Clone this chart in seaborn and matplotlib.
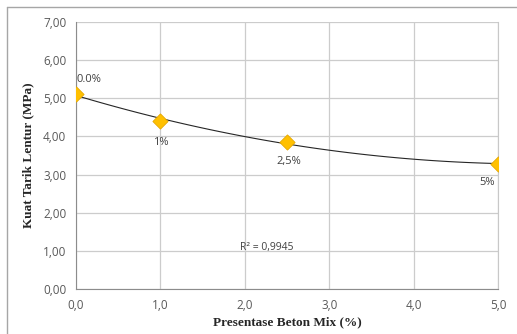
import matplotlib
matplotlib.use("Agg")
import matplotlib.pyplot as plt
import seaborn as sns
import pandas as pd
from matplotlib.lines import Line2D
from matplotlib.ticker import FuncFormatter, MultipleLocator

# Data
persen = [0.0, 1.0, 2.5, 5.0]
kuat_tarik = [5.11, 4.40, 3.85, 3.28]
point_labels = ["0.0%", "1%", "2,5%", "5%"]
r2_text = "R² = 0,9945"
x_label = "Presentase Beton Mix (%)"
y_label = "Kuat Tarik Lentur (MPa)"

df = pd.DataFrame({"x": persen, "y": kuat_tarik})

sns.set_style("white")
W, H = 517, 334
fig = plt.figure(figsize=(W / 100, H / 100), dpi=100)
ax = fig.add_axes([76 / W, 1 - 289 / H, (498 - 76) / W, (289 - 22) / H])

# outer border (left and top)
fig.add_artist(Line2D([7 / W, 7 / W], [0, 1 - 7 / H], color="#a6a6a6", lw=1.0, transform=fig.transFigure))
fig.add_artist(Line2D([7 / W, 1], [1 - 7 / H, 1 - 7 / H], color="#a6a6a6", lw=1.0, transform=fig.transFigure))

# trendline (polynomial order 2)
sns.regplot(data=df, x="x", y="y", order=2, ci=None, scatter=False, ax=ax,
            line_kws=dict(color="#262626", lw=0.8, zorder=3))
# points
sns.scatterplot(data=df, x="x", y="y", marker="D", s=60, color="#FFC000",
                edgecolor="#E6A800", linewidth=0.6, ax=ax, zorder=4)

ax.set_xlim(0, 5)
ax.set_ylim(0, 7)
ax.xaxis.set_major_locator(MultipleLocator(1))
ax.yaxis.set_major_locator(MultipleLocator(1))
ax.xaxis.set_major_formatter(FuncFormatter(lambda v, p: f"{v:.1f}".replace(".", ",")))
ax.yaxis.set_major_formatter(FuncFormatter(lambda v, p: f"{v:.2f}".replace(".", ",")))
ax.grid(True, color="#cccccc", lw=0.9)
ax.set_axisbelow(True)
ax.spines["top"].set_visible(False)
ax.spines["right"].set_color("#c8c8c8")
ax.spines["left"].set_color("#8c8c8c")
ax.spines["bottom"].set_color("#8c8c8c")
ax.tick_params(axis="both", which="major", length=4, width=0.8, color="#8c8c8c",
               labelsize=8.5, labelcolor="#595959", direction="out", pad=3)
for lab in ax.get_xticklabels() + ax.get_yticklabels():
    lab.set_fontfamily("Open Sans")

ax.set_xlabel(x_label, fontfamily="Liberation Serif", fontweight="bold", fontsize=9.5,
              color="#262626", labelpad=3)
ax.set_ylabel(y_label, fontfamily="Liberation Serif", fontweight="bold", fontsize=9.5,
              color="#262626", labelpad=6)

# data labels
offsets = [(0.01, 5.48, "left"), (1.0, 3.83, "center"), (2.52, 3.33, "center"), (4.87, 2.78, "center")]
for (lx, ly, ha), t in zip(offsets, point_labels):
    ax.text(lx, ly, t, ha=ha, va="center", fontsize=8, color="#404040", fontfamily="Open Sans")

ax.text(2.26, 1.10, r2_text, ha="center", va="center", fontsize=7.5, color="#404040", fontfamily="Open Sans")

fig.savefig("out.png", dpi=100)
